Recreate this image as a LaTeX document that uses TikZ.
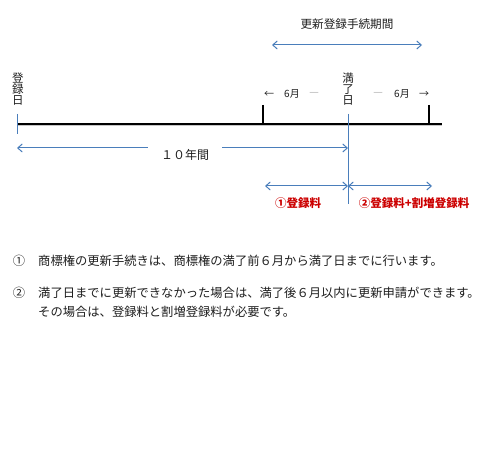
\documentclass[tikz,border=0pt]{standalone}
\usepackage{fontspec}
\setmainfont{Noto Sans CJK JP}
\usetikzlibrary{arrows.meta}
\definecolor{lineblue}{RGB}{74,126,187}
\definecolor{feered}{RGB}{204,0,0}
\definecolor{txt}{RGB}{30,30,30}
\begin{document}
\begin{tikzpicture}[x=1pt,y=-1pt,
  barb/.tip={Straight Barb[length=4.5pt,width=8pt,line width=1pt]},
  dim/.style={lineblue, line width=1pt, barb-barb},
  dimL/.style={lineblue, line width=1pt, barb-},
  dimR/.style={lineblue, line width=1pt, -barb},
  lbl/.style={inner sep=0pt, text=txt, font=\fontsize{11.6}{11.6}\selectfont},
  small/.style={inner sep=0pt, text=txt, font=\fontsize{10}{10}\selectfont},
  vlbl/.style={inner sep=0pt, align=center, text=txt, font=\fontsize{11.5}{11.3}\selectfont},
  fee/.style={inner sep=0pt, text=feered, font=\fontsize{11.5}{11.5}\selectfont\bfseries},
  body/.style={inner sep=0pt, anchor=west, text=txt, font=\fontsize{12.3}{12.3}\selectfont},
  tick/.style={black, line width=1.2pt}]
\useasboundingbox (0,0) rectangle (485,449);
\fill[white] (0,0) rectangle (485,449);

% top period arrow
\node[lbl] (period) at (347,24) {更新登録手続期間};
\coordinate (pa) at (272,45);
\coordinate (pb) at (422,45);
\draw[dim] (pa) -- (pb);

% vertical labels
\node[vlbl] (reg) at (18,89) {登\\録\\日};
\node[vlbl] (exp) at (348,89) {満\\了\\日};

% six-month labels
\node[small] (la) at (269,94) {←};
\node[small] (lm) at (292,94) {6月};
\node[small, text=gray] (ld) at (314,94) {―};
\node[small, text=gray] (rd) at (378,94) {―};
\node[small] (rm) at (402,94) {6月};
\node[small] (ra) at (424,94) {→};

% timeline
\coordinate (t0) at (17,124);
\coordinate (t1) at (442,124);
\draw[gray!45, line width=1.6pt] ([yshift=-1.6pt]t0) -- ([yshift=-1.6pt]t1);
\draw[black, line width=2pt] (t0) -- (t1);

% ticks
\coordinate (k1a) at (263,105); \coordinate (k1b) at (263,124);
\coordinate (k2a) at (429,105); \coordinate (k2b) at (429,124);
\draw[tick] (k1a) -- (k1b);
\draw[tick] (k2a) -- (k2b);
\coordinate (b0a) at (17,114); \coordinate (b0b) at (17,134);
\draw[lineblue, line width=1pt] (b0a) -- (b0b);
\coordinate (e0a) at (348,114); \coordinate (e0b) at (348,204);
\draw[lineblue, line width=1pt] (e0a) -- (e0b);

% ten years
\node[lbl, font=\fontsize{12}{12}\selectfont] (ten) at (185,155) {１０年間};
\coordinate (y0) at (17,148);
\coordinate (y0g) at (148,148);
\coordinate (y1g) at (222,148);
\coordinate (y1) at (348,148);
\draw[dimL] (y0) -- (y0g);
\draw[dimR] (y1g) -- (y1);

% fee arrows
\coordinate (f0) at (265,186);
\coordinate (fm) at (348,186);
\coordinate (f1) at (432,186);
\draw[dim] (f0) -- (fm);
\draw[dim] (fm) -- (f1);
\node[fee] (fee1) at (298,203) {①登録料};
\node[fee] (fee2) at (414,203) {②登録料+割増登録料};

% explanations
\node[body, anchor=center] (n1) at (19,261) {①};
\node[body] (s1) at (38,261) {商標権の更新手続きは、商標権の満了前６月から満了日までに行います。};
\node[body, anchor=center] (n2) at (19,293) {②};
\node[body] (s2) at (38,293) {満了日までに更新できなかった場合は、満了後６月以内に更新申請ができます。};
\node[body] (s3) at (38,312) {その場合は、登録料と割増登録料が必要です。};
\end{tikzpicture}
\end{document}
